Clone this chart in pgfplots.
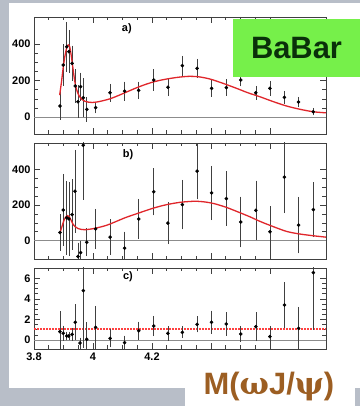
\documentclass[border=0pt]{standalone}
\usepackage{fontspec}
\setmainfont{Liberation Sans}
\newfontfamily\greekfont{DejaVu Serif}
\usepackage{pgfplots}
\pgfplotsset{compat=1.18}
\usepackage{pgfplotstable}
\definecolor{bgcol}{HTML}{B8BEC8}
\definecolor{babargreen}{HTML}{76F04A}
\definecolor{babartext}{HTML}{0A300A}
\definecolor{mbrown}{HTML}{9C5E22}
\definecolor{fitred}{HTML}{E0262B}

\pgfplotstableread{
x y e
3.888 60 68
3.899 285 105
3.911 385 128
3.918 358 110
3.929 294 89
3.940 170 84
3.949 84 82
3.958 166 70
3.967 106 100
3.979 42 60
4.009 51 23
4.058 133 41
4.107 142 44
4.155 146 40
4.206 203 52
4.254 163 41
4.303 281 46
4.353 267 44
4.402 157 37
4.452 161 37
4.501 203 27
4.552 133 30
4.600 157 34
4.649 108 27
4.697 82 21
4.747 29 13
}\dataA

\pgfplotstableread{
x y e
3.888 45 95
3.899 172 195
3.911 128 200
3.918 122 200
3.929 146 190
3.939 278 225
3.949 -90 70
3.958 -68 60
3.967 536 300
3.979 -10 70
4.009 65 106
4.058 19 92
4.107 -43 85
4.155 121 105
4.206 274 125
4.254 98 110
4.303 202 132
4.353 391 151
4.402 268 145
4.452 236 145
4.501 104 135
4.552 170 160
4.600 49 136
4.649 357 195
4.697 87 151
4.747 174 147
}\dataB

\pgfplotstableread{
x y e
3.888 0.81 1.87
3.899 0.65 0.6
3.911 0.39 0.3
3.918 0.39 0.3
3.929 0.55 0.5
3.940 1.72 1.6
3.956 -0.3 0.4
3.967 4.8 5.4
3.979 0.07 1.5
4.009 1.23 1.95
4.058 0.16 0.73
4.107 -0.26 0.55
4.155 0.9 0.76
4.206 1.36 0.85
4.254 0.65 0.57
4.303 0.75 0.44
4.353 1.52 0.65
4.402 1.72 1.0
4.452 1.56 1.0
4.501 0.58 0.65
4.552 1.3 1.27
4.600 0.33 0.9
4.649 3.4 2.1
4.697 1.13 1.95
4.747 6.55 5.4
}\dataC

\pgfplotstableread{
x y
3.887 120
3.893 190
3.899 270
3.905 335
3.911 380
3.916 395
3.921 385
3.926 340
3.931 280
3.936 220
3.941 172
3.947 138
3.954 113
3.963 96
3.973 86
3.986 81
4.000 80
4.012 82
4.030 88
4.058 100
4.085 117
4.114 137
4.140 155
4.170 174
4.200 190
4.227 201
4.260 211
4.295 219
4.329 223
4.360 220
4.397 208
4.440 185
4.487 157
4.525 133
4.566 111
4.610 85
4.657 60
4.700 43
4.746 29
4.790 23
}\fitA

\pgfplotstableread{
x y
3.888 42
3.895 80
3.902 115
3.908 133
3.914 140
3.920 133
3.927 110
3.933 90
3.939 79
3.950 67
3.962 62
3.973 61
3.990 64
4.010 70
4.050 88
4.107 127
4.150 152
4.206 183
4.250 202
4.295 215
4.330 220
4.351 221
4.380 217
4.410 208
4.450 188
4.487 164
4.530 135
4.566 108
4.610 79
4.657 51
4.700 37
4.746 27
4.790 19
}\fitB

\tikzset{panellabel/.style={font=\fontsize{11}{12}\selectfont\bfseries}}
\pgfplotsset{
  babar/.style={
    scale only axis, width=292bp,
    xmin=3.8, xmax=4.79,
    axis line style={black!75, line width=0.6bp},
    tick style={black!75, line width=0.5bp},
    tick align=inside,
    major tick length=6bp, minor tick length=3.5bp,
    xtick={3.8,4,4.2,4.4,4.6},
    minor x tick num=3,
    minor y tick num=3,
    xticklabels={},
    /pgf/number format/assume math mode=true,
    tick label style={font=\fontsize{11}{12}\selectfont\bfseries},
    anchor=north west,
    clip=true,
  },
  pts/.style={only marks, mark=*, mark size=1.6pt, black,
    error bars/.cd, y dir=both, y explicit,
    error bar style={line width=0.6bp, black!75},
    error mark options={mark size=1.4pt, black!75, line width=0.6bp}},
}

\begin{document}
\begin{tikzpicture}
\useasboundingbox (0,0) rectangle (360bp,406bp);
\fill[bgcol] (0,0) rectangle (360bp,406bp);
\fill[white] (9bp,18bp) rectangle (360bp,403bp);
\fill[white] (185bp,0bp) rectangle (355bp,53bp);

% panel a
\begin{axis}[babar, at={(34bp,389bp)}, height=117bp,
  ymin=-93, ymax=548, ytick={0,200,400}]
\addplot[black!45, line width=0.8bp] coordinates {(3.8,0) (4.79,0)};
\addplot[pts] table[x=x,y=y,y error=e] {\dataA};
\addplot[fitred, line width=1.3bp, smooth, tension=0.5] table[x=x,y=y] {\fitA};
\node[panellabel] at (rel axis cs:0.318,0.897) {a)};
\end{axis}

% panel b
\begin{axis}[babar, at={(34bp,263bp)}, height=116bp,
  ymin=-104, ymax=549, ytick={0,200,400}]
\addplot[black!45, line width=0.8bp] coordinates {(3.8,0) (4.79,0)};
\addplot[pts] table[x=x,y=y,y error=e] {\dataB};
\addplot[fitred, line width=1.3bp, smooth, tension=0.5] table[x=x,y=y] {\fitB};
\node[panellabel] at (rel axis cs:0.322,0.897) {b)};
\end{axis}

% panel c
\begin{axis}[babar, at={(34bp,138bp)}, height=81bp,
  ymin=-0.875, ymax=7.0, ytick={0,2,4,6},
  xticklabels={3.8,4,4.2,,}]
\addplot[black!45, line width=0.8bp] coordinates {(3.8,0) (4.79,0)};
\addplot[red!75, line width=1.6bp, dash pattern=on 1.6bp off 1.4bp] coordinates {(3.8,1.05) (4.79,1.05)};
\addplot[pts] table[x=x,y=y,y error=e] {\dataC};
\node[panellabel] at (rel axis cs:0.322,0.889) {c)};
\end{axis}

% BaBar box
\fill[babargreen] (233bp,329bp) rectangle (360bp,387bp);
\node[text=babartext, font=\fontsize{31}{34}\selectfont\bfseries] at (296.5bp,358bp) {BaBar};

% mass label
\node[text=mbrown, font=\fontsize{31}{34}\selectfont\bfseries] at (269bp,19bp) {M({\greekfont ω}J/{\greekfont ψ})};
\end{tikzpicture}
\end{document}
